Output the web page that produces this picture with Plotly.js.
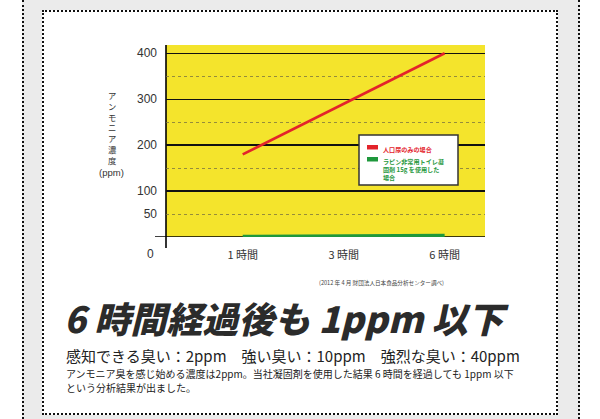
<!DOCTYPE html>
<html>
<head>
<meta charset="utf-8">
<script src="https://cdn.plot.ly/plotly-3.0.1.min.js"></script>
<style>
  body { margin: 0; background: #fff; }
  #band { position: absolute; left: 22px; top: 0; width: 554px; height: 419px; background: #ebebeb;
          border-left: 2px dotted #111; border-right: 2px dotted #111; }
  #panel { position: absolute; left: 42px; top: 10px; width: 512px; height: 401px; background: #fff;
           border: 2px dotted #111; }
  #chart { position: absolute; left: 0; top: 0; width: 600px; height: 419px; }
</style>
</head>
<body>
<div id="band"></div>
<div id="panel"></div>
<div id="chart"></div>
<script>
// values
var hours = ['1 時間', '3 時間', '6 時間'];
var urineOnly = [180, 290, 400];
var withAgent = [1, 2, 3];
var yTicks = [50, 100, 200, 300, 400];
var solidGrid = [100, 200, 300, 400];
var dashGrid = [50, 150, 250, 350];
var seriesNames = ['人口尿のみの場合', 'ラピン非常用トイレ凝固剤 15g を使用した場合'];
var legendLines = [['人口尿のみの場合'], ['ラピン非常用トイレ凝', '固剤 15g を使用した', '場合']];
var seriesColors = ['#e3232b', '#1f983c'];
var yTitle = 'アンモニア濃度';
var noteLines = ['アンモニア臭を感じ始める濃度は2ppm。当社凝固剤を使用した結果 6 時間を経過しても 1ppm 以下',
                 'という分析結果が出ました。'];

var JP = '"Noto Sans CJK JP", sans-serif';
var SANS = '"Liberation Sans", Arial, sans-serif';

// plot area in page pixels
var L = 166, R = 485, T = 45, B = 237;
function px(x) { return (x - L) / (R - L); }
function py(y) { return (B - y) / (B - T); }

var data = [
  {
    x: hours, y: urineOnly, name: seriesNames[0], type: 'scatter', mode: 'lines',
    line: {color: seriesColors[0], width: 2.6}, showlegend: false, hoverinfo: 'skip'
  },
  {
    x: hours, y: withAgent, name: seriesNames[1], type: 'scatter', mode: 'lines', yaxis: 'y2',
    line: {color: seriesColors[1], width: 3.5}, showlegend: false, hoverinfo: 'skip'
  }
];

var annotations = [];
var shapes = [];

// the lone "0" sits under the corner, in line with the hour labels
annotations.push({xref: 'paper', yref: 'y', x: 0, y: 0, xanchor: 'right', yanchor: 'middle',
  xshift: -10, yshift: -17, showarrow: false, text: '0', font: {family: SANS, size: 12, color: '#333'}});

// vertical axis title, one character per row
annotations.push({xref: 'paper', yref: 'paper', x: px(112), y: py(127), xanchor: 'center', yanchor: 'middle',
  showarrow: false, text: yTitle.split('').join('<br>'), align: 'center',
  font: {family: JP, size: 8.3, color: '#333'}});
annotations.push({xref: 'paper', yref: 'paper', x: px(111), y: py(172), xanchor: 'center', yanchor: 'middle',
  showarrow: false, text: '(ppm)', font: {family: SANS, size: 9.5, color: '#333'}});

// axis lines overhanging the corner
shapes.push({type: 'line', xref: 'paper', yref: 'y', x0: -11 / (R - L), x1: 1, y0: 0, y1: 0,
  line: {color: '#000', width: 1.6}, layer: 'between'});
shapes.push({type: 'line', xref: 'paper', yref: 'paper', x0: 0, x1: 0, y0: -11 / (B - T), y1: 1,
  line: {color: '#000', width: 1.6}, layer: 'between'});

// legend box
shapes.push({type: 'rect', xref: 'paper', yref: 'paper', x0: px(359), x1: px(458), y0: py(185), y1: py(135),
  fillcolor: '#fff', line: {color: '#333', width: 1.5}, layer: 'above'});
var rowTop = [145, 157];
for (var s = 0; s < legendLines.length; s++) {
  shapes.push({type: 'rect', xref: 'paper', yref: 'paper', x0: px(367), x1: px(378),
    y0: py(rowTop[s] + 4.5), y1: py(rowTop[s]), fillcolor: seriesColors[s], line: {width: 0}, layer: 'above'});
  annotations.push({xref: 'paper', yref: 'paper', x: px(381), y: py(rowTop[s] - 2.5),
    xanchor: 'left', yanchor: 'top', showarrow: false, align: 'left', text: legendLines[s].join('<br>'),
    font: {family: JP, size: 6.1, color: seriesColors[s], weight: 'bold'}});
}

// texts under the chart
annotations.push({xref: 'paper', yref: 'paper', x: px(446), y: py(283), xanchor: 'right', yanchor: 'middle',
  showarrow: false, text: '(2012 年 4 月 財団法人日本食品分析センター調べ)',
  font: {family: JP, size: 5.6, color: '#444'}});
annotations.push({xref: 'paper', yref: 'paper', x: px(62), y: py(317), xanchor: 'left', yanchor: 'middle',
  showarrow: false, text: '6 時間経過後も 1ppm 以下',
  font: {family: JP, size: 36, color: '#2b2b2b', weight: 900, style: 'italic'}});
annotations.push({xref: 'paper', yref: 'paper', x: px(64), y: py(355), xanchor: 'left', yanchor: 'middle',
  showarrow: false, text: '感知できる臭い：2ppm　強い臭い：10ppm　強烈な臭い：40ppm',
  font: {family: JP, size: 15, color: '#222'}});
for (var n = 0; n < noteLines.length; n++) {
  annotations.push({xref: 'paper', yref: 'paper', x: px(64), y: py(373.5 + n * 14), xanchor: 'left', yanchor: 'middle',
    showarrow: false, text: noteLines[n], font: {family: JP, size: 10, color: '#222'}});
}

var layout = {
  width: 600, height: 419,
  margin: {l: L, r: 600 - R, t: T, b: 419 - B},
  paper_bgcolor: 'rgba(0,0,0,0)',
  plot_bgcolor: '#f4e42c',
  showlegend: false,
  xaxis: {
    type: 'category', range: [-0.76, 2.4], showgrid: false, zeroline: false, showline: false,
    ticks: 'outside', ticklen: 8, tickcolor: 'rgba(0,0,0,0)',
    tickfont: {family: JP, size: 11, color: '#333'}, fixedrange: true
  },
  yaxis: {
    range: [0, 418], tickvals: yTicks, showgrid: false, zeroline: false, showline: false,
    ticks: '', ticklabelstandoff: 8, tickfont: {family: SANS, size: 12, color: '#333'},
    minor: {tickvals: dashGrid, showgrid: true, gridcolor: '#7d7540', griddash: '3px,3px', gridwidth: 0.8},
    fixedrange: true
  },
  yaxis2: {
    overlaying: 'y', side: 'left', range: [0, 418], tickvals: solidGrid, showgrid: true,
    gridcolor: '#111', gridwidth: 1.3, showticklabels: false, zeroline: false, ticks: '', fixedrange: true
  },
  shapes: shapes,
  annotations: annotations
};

Plotly.newPlot('chart', data, layout, {staticPlot: true});
</script>
</body>
</html>
